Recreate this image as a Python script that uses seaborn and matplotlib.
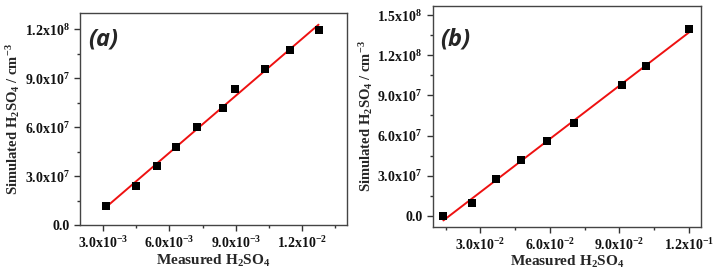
import numpy as np
import matplotlib
matplotlib.use('Agg')
import matplotlib.pyplot as plt
import seaborn as sns
import pandas as pd
from matplotlib.ticker import MultipleLocator, AutoMinorLocator, FuncFormatter

# data
meas_a = [3.12e-3, 4.48e-3, 5.45e-3, 6.29e-3, 7.27e-3, 8.41e-3, 8.98e-3, 1.032e-2, 1.144e-2, 1.275e-2]
sim_a = [1.18e7, 2.42e7, 3.63e7, 4.81e7, 5.99e7, 7.21e7, 8.37e7, 9.58e7, 1.076e8, 1.198e8]

meas_b = [1.40e-2, 2.64e-2, 3.68e-2, 4.77e-2, 5.88e-2, 7.02e-2, 9.10e-2, 1.015e-1, 1.20e-1]
sim_b = [0.0, 0.945e7, 2.74e7, 4.18e7, 5.57e7, 6.97e7, 9.78e7, 1.117e8, 1.393e8]

sns.set_style('ticks')
plt.rcParams['font.family'] = ['Liberation Serif', 'DejaVu Serif']
plt.rcParams['font.weight'] = 'bold'
plt.rcParams['mathtext.fontset'] = 'custom'
plt.rcParams['mathtext.rm'] = 'Liberation Serif:bold'
plt.rcParams['mathtext.it'] = 'Liberation Serif:bold'
plt.rcParams['mathtext.bf'] = 'Liberation Serif:bold'


def sci(v, pos):
    if abs(v) < 1e-20:
        return '0.0'
    e = int(np.floor(np.log10(abs(v)) + 1e-9))
    m = v / 10**e
    return f'{m:.1f}x10$^{{{e}}}$'


fig = plt.figure(figsize=(7.2, 2.78), dpi=100)
ax_a = fig.add_axes([0.111, 0.19, 0.371, 0.763])
ax_b = fig.add_axes([0.601, 0.185, 0.373, 0.793])

panels = [
    (ax_a, meas_a, sim_a, (1.95e-3, 1.404e-2), (0, 1.3e8), 3e-3, '(a)', (0.03, 0.93)),
    (ax_b, meas_b, sim_b, (0.94e-2, 0.1253), (-0.8e7, 1.567e8), 3e-2, '(b)', (0.026, 0.905)),
]

for ax, xs, ys, xl, yl, xstep, lab, lpos in panels:
    df = pd.DataFrame({'measured': xs, 'simulated': ys})
    sns.regplot(data=df, x='measured', y='simulated', ax=ax, ci=None, marker='s',
                scatter_kws={'color': 'black', 's': 32, 'zorder': 3, 'linewidths': 0, 'alpha': 1},
                line_kws={'color': '#ee1111', 'lw': 1.4, 'zorder': 2})
    ax.set_xlim(*xl)
    ax.set_ylim(*yl)
    ax.xaxis.set_major_locator(MultipleLocator(xstep))
    ax.xaxis.set_minor_locator(AutoMinorLocator(2))
    ax.yaxis.set_major_locator(MultipleLocator(3e7))
    ax.yaxis.set_minor_locator(AutoMinorLocator(2))
    ax.xaxis.set_major_formatter(FuncFormatter(sci))
    ax.yaxis.set_major_formatter(FuncFormatter(sci))
    ax.tick_params(which='major', direction='out', length=4, width=1, labelsize=10, color='#333333',
                   labelcolor='#111111')
    ax.tick_params(which='minor', direction='out', length=2, width=1, color='#333333')
    for s in ax.spines.values():
        s.set_color('#444444')
        s.set_linewidth(1.0)
    ax.set_xlabel('Measured H$_2$SO$_4$', fontsize=11, fontweight='bold', labelpad=1)
    ax.set_ylabel('Simulated H$_2$SO$_4$ / cm$^{-3}$', fontsize=10.5, fontweight='bold', labelpad=2)
    ax.text(lpos[0], lpos[1], lab, transform=ax.transAxes, ha='left', va='top',
            fontsize=17, fontweight='bold', fontstyle='italic', family=['Open Sans', 'DejaVu Sans'])

fig.savefig('out.png', dpi=100)
